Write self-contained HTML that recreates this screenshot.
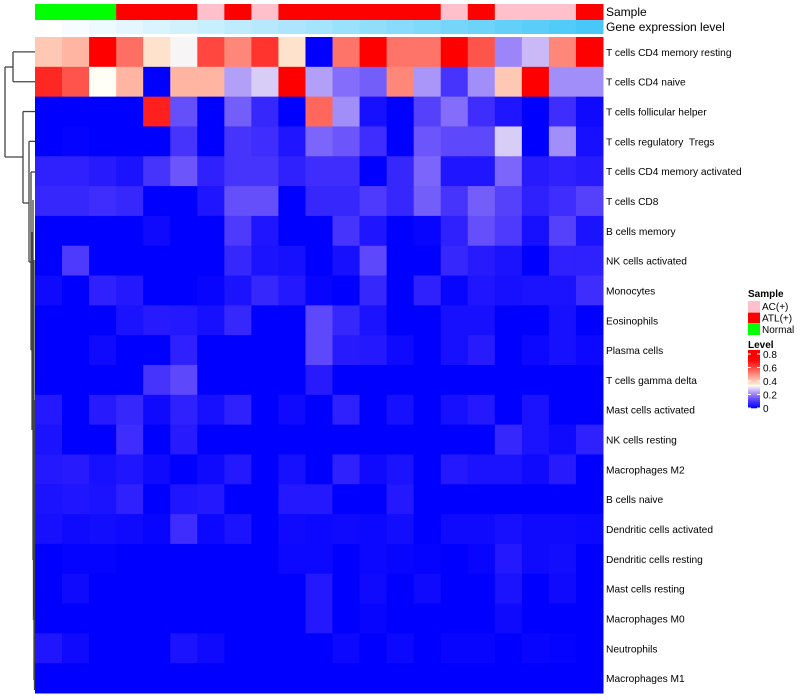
<!DOCTYPE html>
<html><head><meta charset="utf-8"><style>
body{margin:0;background:#fff;}
svg{display:block;font-family:"Liberation Sans",sans-serif;}
text{white-space:pre;}
</style></head><body>
<svg id="chart" width="800" height="700"></svg>
<script>
const rowLabels=["T cells CD4 memory resting","T cells CD4 naive","T cells follicular helper","T cells regulatory  Tregs","T cells CD4 memory activated","T cells CD8","B cells memory","NK cells activated","Monocytes","Eosinophils","Plasma cells","T cells gamma delta","Mast cells activated","NK cells resting","Macrophages M2","B cells naive","Dendritic cells activated","Dendritic cells resting","Mast cells resting","Macrophages M0","Neutrophils","Macrophages M1"];
const sampleGroups=["N","N","N","A","A","A","C","A","C","A","A","A","A","A","A","C","A","C","C","C","A"];
const geneLevel=[0,0.05,0.1,0.15,0.2,0.25,0.3,0.35,0.4,0.45,0.5,0.55,0.6,0.65,0.7,0.75,0.8,0.85,0.9,0.95,1];
const r1=[0.4,0.43,0.75,0.54,0.36,0.32,0.6,0.5,0.63,0.36,0,0.53,0.75,0.53,0.53,0.75,0.58,0.2,0.26,0.5,0.75];
const r2=[0.65,0.58,0.33,0.43,0,0.43,0.43,0.23,0.28,0.75,0.23,0.17,0.15,0.5,0.22,0.09,0.21,0.4,0.75,0.21,0.21];
const r3=[0,0,0,0,0.66,0.13,0,0.15,0.07,0,0.55,0.21,0.03,0,0.11,0.17,0.08,0.04,0,0.08,0.02];
const r4=[0,0.005,0,0,0,0.09,0,0.09,0.08,0.04,0.16,0.14,0.08,0,0.14,0.12,0.12,0.28,0,0.21,0.03];
const r5=[0.06,0.06,0.05,0.035,0.09,0.14,0.06,0.09,0.09,0.06,0.08,0.08,0,0.07,0.16,0.04,0.04,0.16,0.05,0.06,0.05];
const r6=[0.07,0.07,0.08,0.07,0,0,0.04,0.13,0.13,0,0.07,0.07,0.1,0.07,0.15,0.09,0.15,0.11,0.06,0.08,0.11];
const r7=[0,0,0,0,0.02,0,0,0.1,0.04,0,0,0.09,0.04,0,0.01,0.06,0.13,0.1,0.03,0.11,0.035];
const r8=[0,0.1,0,0,0,0,0,0.07,0.035,0.03,0,0.03,0.12,0,0,0.07,0.05,0.035,0,0.06,0.06];
const r9=[0.02,0,0.06,0.045,0,0,0.01,0.035,0.07,0.045,0.01,0,0.07,0,0.06,0.01,0.04,0.03,0.035,0.035,0.08];
const r10=[0,0,0,0.035,0.05,0.045,0.03,0.07,0,0,0.12,0.07,0.035,0,0,0.03,0.03,0,0,0.03,0];
const r11=[0,0,0.02,0,0,0.06,0,0,0,0,0.12,0.05,0.045,0.02,0,0.03,0.05,0,0.015,0.03,0.015];
const r12=[0,0,0,0,0.09,0.12,0,0,0,0,0.05,0,0,0,0,0,0,0,0,0,0];
const r13=[0.045,0,0.05,0.07,0.02,0.06,0.03,0.06,0,0.02,0,0.06,0,0.03,0,0.03,0.045,0,0.035,0,0];
const r14=[0.035,0,0,0.08,0,0.05,0,0,0,0,0,0,0,0,0,0,0,0.07,0.035,0.02,0.06];
const r15=[0.045,0.05,0.03,0.04,0.02,0,0.02,0.045,0,0.03,0,0.06,0.02,0.035,0,0.045,0.035,0.035,0.02,0.05,0];
const r16=[0.035,0.04,0.035,0.06,0,0.04,0.045,0,0,0.045,0.045,0,0,0.045,0,0,0,0,0,0,0];
const r17=[0.03,0.02,0.025,0.02,0.01,0.08,0.015,0.035,0,0.02,0.015,0.02,0.015,0.025,0,0.02,0.02,0.03,0.02,0.02,0.015];
const r18=[0,0.005,0.005,0,0,0,0,0,0,0.015,0.015,0,0.015,0.01,0.005,0,0.01,0.045,0.02,0.025,0];
const r19=[0,0.02,0,0,0,0,0,0,0,0,0.045,0,0.02,0,0.02,0,0,0.035,0,0.02,0];
const r20=[0,0,0,0,0,0,0,0,0,0,0.045,0,0.01,0,0,0,0,0.02,0,0,0];
const r21=[0.04,0.02,0,0,0,0.035,0.02,0,0,0,0,0.015,0,0.015,0,0.01,0.01,0,0.01,0.005,0];
const r22=[0,0,0,0,0,0,0,0,0,0,0,0,0,0,0,0,0,0,0,0,0];
const values=[r1,r2,r3,r4,r5,r6,r7,r8,r9,r10,r11,r12,r13,r14,r15,r16,r17,r18,r19,r20,r21,r22];
const legendTicks=[0,0.2,0.4,0.6,0.8];

const NS="http://www.w3.org/2000/svg";
const svg=document.getElementById('chart');
function el(t,a){const e=document.createElementNS(NS,t);for(const k in a)e.setAttribute(k,a[k]);svg.appendChild(e);return e;}
const X0=35,X1=603,Y0=37,Y1=693;
const nC=21,nR=22;
const cw=(X1-X0)/nC,rh=(Y1-Y0)/nR;
const xs=i=>X0+i*cw, ys=j=>Y0+j*rh;
const W=0.33,R=0.71;
function color(v){
  let r,g,b;
  if(v<=W){const t=Math.max(0,v)/W;r=255*t;g=r*(0.65+0.35*t);b=255-10*t;}
  else{const t=Math.min(1,(v-W)/(R-W));r=255;g=245*(1-t);b=245*(1-t)*0.9;}
  return `rgb(${Math.round(r)},${Math.round(g)},${Math.round(b)})`;
}
const grpCol={N:"#00ff00",A:"#ff0000",C:"#ffc0cb"};
function geneCol(v){const r=255+(72-255)*v,g=255+(200-255)*v,b=255+(248-255)*v;return `rgb(${Math.round(r)},${Math.round(g)},${Math.round(b)})`;}
sampleGroups.forEach((s,i)=>{
  const e=el('rect',{x:xs(i),y:4,width:cw+0.5,height:16,fill:grpCol[s]});
  
  
});
geneLevel.forEach((v,i)=>{
  const e=el('rect',{x:xs(i),y:20,width:cw+0.5,height:14,fill:geneCol(v)});
  
  
});
let t=el('text',{x:606,y:16,'font-size':12});t.textContent="Sample";

t=el('text',{x:606,y:31,'font-size':12});t.textContent="Gene expression level";

values.forEach((row,j)=>{
  row.forEach((v,i)=>{
    const e=el('rect',{x:xs(i),y:ys(j),width:cw+0.5,height:rh+0.5,fill:color(v)});
    
    
  });
  const l=el('text',{x:606,y:ys(j)+rh/2+4,'font-size':10.2});
  l.textContent=rowLabels[j];
  
  
});
const cy=j=>ys(j)+rh/2;
const segs=[[13,cy(0),13,cy(1)],[13,cy(0),35,cy(0)],[13,cy(1),35,cy(1)],
[5,67,5,157],[5,67,13,67],[5,157,23,157],
[23,cy(2),23,203],[23,cy(2),35,cy(2)],[23,203,29,203],
[29,cy(3),29,262],[29,cy(3),35,cy(3)],[29,262,31,262],
[31,172,31,350],[31,172,35,172],[31,350,32,350],
[32,232,32,430],[33,200,33,560],[34,260,34,680],[33.5,300,33.5,620],[34.5,400,34.5,690]];
segs.forEach(s=>{
  const e=el('line',{x1:s[0],y1:s[1],x2:s[2],y2:s[3],stroke:"#444",'stroke-width':1.3});
  
  
});
t=el('text',{x:748,y:297,'font-size':10,'font-weight':'bold'});t.textContent="Sample";

[["C","AC(+)"],["A","ATL(+)"],["N","Normal"]].forEach((p,k)=>{
  const r=el('rect',{x:748,y:301+k*11.5,width:12,height:11,fill:grpCol[p[0]]});
  
  const tx=el('text',{x:762,y:310+k*11.5,'font-size':10});tx.textContent=p[1];
  
});
t=el('text',{x:748,y:348,'font-size':10,'font-weight':'bold'});t.textContent="Level";

const ly=v=>408-v*67.5;
for(let k=0;k<60;k++){
  const v0=k/60*0.86;
  const e=el('rect',{x:748,y:ly(v0+0.86/60),width:12,height:0.86/60*67.5+0.3,fill:color(v0)});
  
}
legendTicks.forEach(v=>{
  const a=el('line',{x1:748,x2:751,y1:ly(v),y2:ly(v),stroke:"#fff",'stroke-width':1});
  
  const b=el('line',{x1:757,x2:760,y1:ly(v),y2:ly(v),stroke:"#fff",'stroke-width':1});
  
  const tx=el('text',{x:763,y:ly(v)+4,'font-size':10});tx.textContent=String(v);
  
});
</script>
</body></html>
